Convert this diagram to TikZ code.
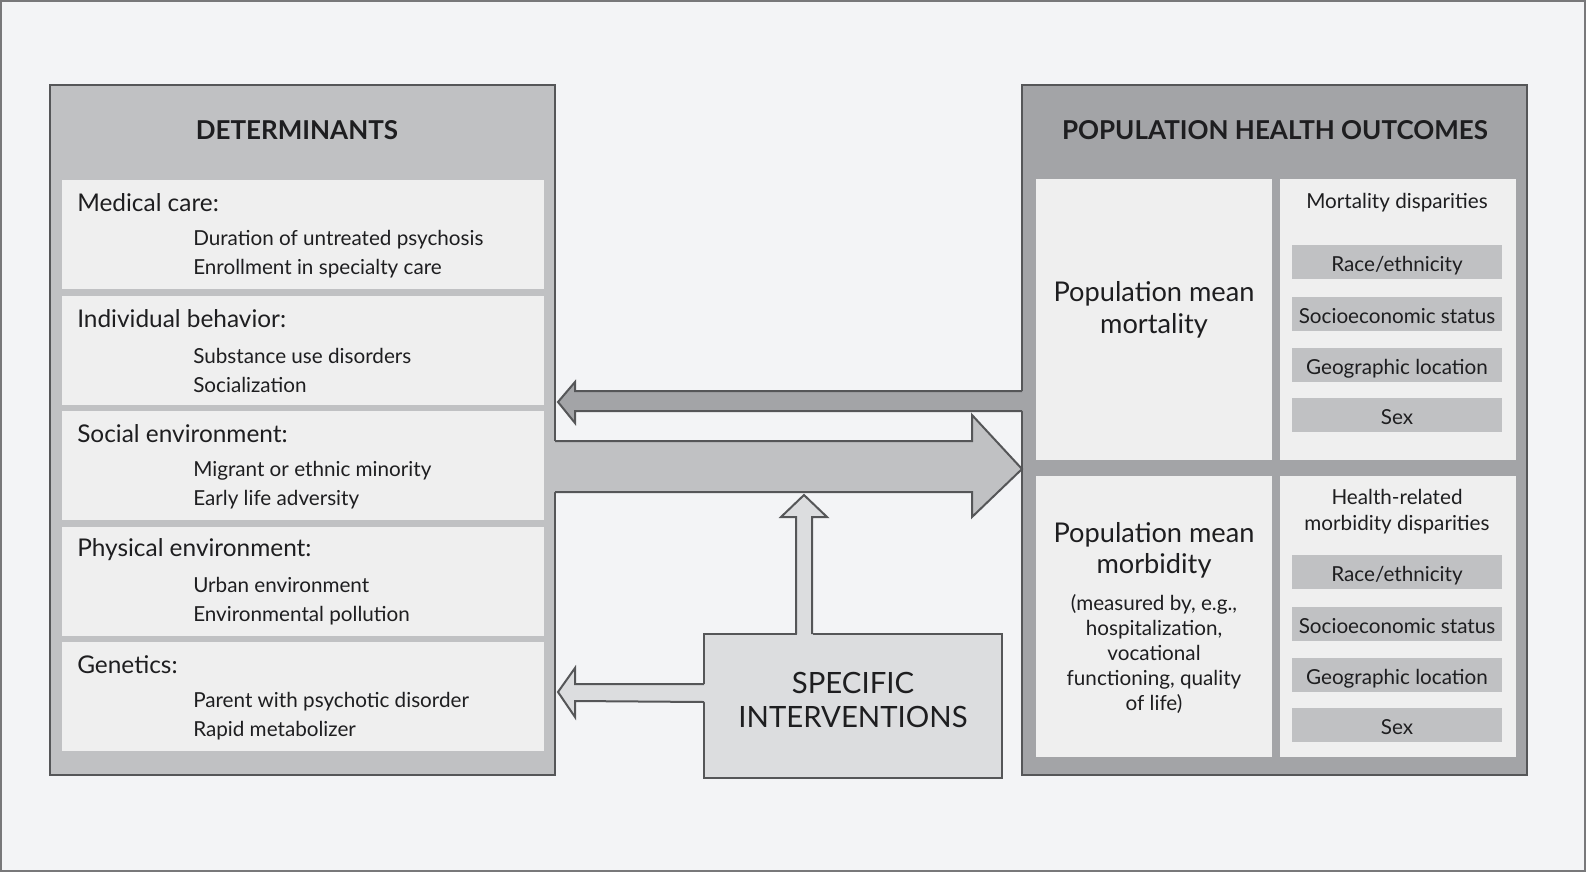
\documentclass[tikz,border=0pt]{standalone}
\usepackage{fontspec}
\setmainfont{Lato}
\definecolor{bgGray}{RGB}{243, 244, 246}
\definecolor{frameGray}{RGB}{120, 120, 122}
\definecolor{lineGray}{RGB}{85, 86, 88}
\definecolor{boxLight}{RGB}{192, 193, 195}
\definecolor{boxDark}{RGB}{163, 164, 167}
\definecolor{cellFill}{RGB}{239, 239, 239}
\definecolor{specFill}{RGB}{220, 221, 223}
\definecolor{inkBlack}{RGB}{30, 30, 32}
\usetikzlibrary{positioning, calc}
\tikzset{
  outerbox/.style={rectangle, draw=lineGray, line width=1.5pt, fill=#1, inner sep=0pt, outer sep=0pt, anchor=north west},
  detcell/.style={rectangle, fill=cellFill, minimum width=361.5pt, minimum height=81.75pt, inner sep=0pt, outer sep=0pt, anchor=north west},
  outcell/.style={rectangle, fill=cellFill, minimum width=177pt, minimum height=210.75pt, inner sep=0pt, outer sep=0pt, anchor=north west},
  dispbox/.style={rectangle, fill=boxLight, minimum width=157.5pt, minimum height=25.5pt, inner sep=0pt, text height=16.5pt, text depth=2pt, text=inkBlack, font=\fontsize{15.5}{18}\selectfont},
  headtext/.style={inner sep=0pt, text=inkBlack, font=\fontsize{19.5}{23}\selectfont\bfseries},
  celltitle/.style={anchor=west, inner sep=0pt, text=inkBlack, font=\fontsize{18.3}{22}\selectfont},
  cellitems/.style={anchor=west, align=left, inner sep=0pt, text=inkBlack, font=\fontsize{15.5}{21.75}\selectfont},
  midtext/.style 2 args={align=center, inner sep=0pt, text=inkBlack, font=\fontsize{#1}{#2}\selectfont},
  fatfill/.style={fill=#1},
  fatline/.style={draw=lineGray, line width=1.5pt, line join=miter},
}

\begin{document}
\begin{tikzpicture}[x=0.75pt, y=-0.75pt]
  \useasboundingbox (0,0) rectangle (1586,872);
  \draw[frameGray, fill=bgGray, line width=1.5pt] (1,1) rectangle (1585,871);

  % Determinants
  \node[outerbox=boxLight, minimum width=378.75pt, minimum height=517.5pt] (det) at (50,85) {};
  \node[headtext] (detT) at (297,130) {DETERMINANTS};

  \node[detcell] (med) at (62,180) {};
  \node[detcell] (behav) at (62,295.5) {};
  \node[detcell] (social) at (62,411) {};
  \node[detcell] (phys) at (62,526.5) {};
  \node[detcell] (gene) at (62,642) {};

  \node[celltitle] (medT) at ($(med.north west)+(15,23)$) {Medical care:};
  \node[cellitems] (medI) at ($(med.north west)+(131,74.5)$) {Duration of untreated psychosis\\Enrollment in specialty care};
  \node[celltitle] (behavT) at ($(behav.north west)+(15,23)$) {Individual behavior:};
  \node[cellitems] (behavI) at ($(behav.north west)+(131,74.5)$) {Substance use disorders\\Socialization};
  \node[celltitle] (socialT) at ($(social.north west)+(15,23)$) {Social environment:};
  \node[cellitems] (socialI) at ($(social.north west)+(131,74.5)$) {Migrant or ethnic minority\\Early life adversity};
  \node[celltitle] (physT) at ($(phys.north west)+(15,23)$) {Physical environment:};
  \node[cellitems] (physI) at ($(phys.north west)+(131,74.5)$) {Urban environment\\Environmental pollution};
  \node[celltitle] (geneT) at ($(gene.north west)+(15,23)$) {Genetics:};
  \node[cellitems] (geneI) at ($(gene.north west)+(131,74.5)$) {Parent with psychotic disorder\\Rapid metabolizer};

  % Outcomes
  \node[outerbox=boxDark, minimum width=378.75pt, minimum height=517.5pt] (out) at (1022,85) {};
  \node[headtext] (outT) at (1275,130) {POPULATION HEALTH OUTCOMES};

  \node[outcell] (mtmean) at (1036,179) {};
  \node[outcell] (mtdisp) at (1280,179) {};
  \node[outcell] (mbmean) at (1036,476) {};
  \node[outcell] (mbdisp) at (1280,476) {};

  \node[midtext={20.4}{24}] (mtmeanT) at (1154,310) {Population mean\\mortality};
  \node[midtext={15.5}{19.5}] (mtdispT) at (1397,203) {Mortality disparities};
  \node[dispbox] (mtrace) at (1397,262) {Race/ethnicity};
  \node[dispbox] (mtses) at (1397,314) {Socioeconomic status};
  \node[dispbox] (mtgeo) at (1397,365) {Geographic location};
  \node[dispbox] (mtsex) at (1397,415) {Sex};

  \node[midtext={20.4}{23}] (mbmeanT) at (1154,550) {Population mean\\morbidity};
  \node[midtext={15.5}{18.75}] (mbnote) at (1154,654) {(measured by, e.g.,\\hospitalization,\\vocational\\functioning, quality\\of life)};
  \node[midtext={15.5}{19.5}] (mbdispT) at (1397,512) {Health-related\\morbidity disparities};
  \node[dispbox] (mbrace) at (1397,571.5) {Race/ethnicity};
  \node[dispbox] (mbses) at (1397,623.5) {Socioeconomic status};
  \node[dispbox] (mbgeo) at (1397,675) {Geographic location};
  \node[dispbox] (mbsex) at (1397,725) {Sex};

  % Specific interventions
  \node[outerbox=specFill, minimum width=223.5pt, minimum height=108pt] (spec) at (704,634) {};
  \node[midtext={22}{25.5}] (specT) at ($(spec.center)+(0,-6)$) {SPECIFIC\\INTERVENTIONS};

  % Arrows
  \fill[fatfill=boxDark] ($(out.west |- 0,391)+(1.5,0)$) -- (575,391) -- (575,382) -- ($(det.east |- 0,402)+(3,0)$) -- (575,423) -- (575,411) -- ($(out.west |- 0,411)+(1.5,0)$) -- cycle;
  \draw[fatline] (out.west |- 0,391) -- (575,391) -- (575,382) -- ($(det.east |- 0,402)+(3,0)$) -- (575,423) -- (575,411) -- (out.west |- 0,411);

  \fill[fatfill=boxLight] ($(det.east |- 0,441)+(-1.5,0)$) -- (972,441) -- (972,415) -- (out.west |- 0,469) -- (972,517) -- (972,492) -- ($(det.east |- 0,492)+(-1.5,0)$) -- cycle;
  \draw[fatline] (det.east |- 0,441) -- (972,441) -- (972,415) -- (out.west |- 0,469) -- (972,517) -- (972,492) -- (det.east |- 0,492);

  \fill[fatfill=specFill] ($(spec.north |- 0,634)+(-56,1.5)$) -- (796,517) -- (781,517) -- (804,495) -- (827,517) -- (812,517) -- ($(spec.north |- 0,634)+(-40,1.5)$) -- cycle;
  \draw[fatline] (796,634) -- (796,517) -- (781,517) -- (804,495) -- (827,517) -- (812,517) -- (812,634);

  \fill[fatfill=specFill] ($(spec.west |- 0,684)+(1.5,0)$) -- (575,684) -- (575,668) -- ($(det.east |- 0,692)+(3,0)$) -- (575,717) -- (575,701) -- ($(spec.west |- 0,702)+(1.5,0)$) -- cycle;
  \draw[fatline] (spec.west |- 0,684) -- (575,684) -- (575,668) -- ($(det.east |- 0,692)+(3,0)$) -- (575,717) -- (575,701) -- (spec.west |- 0,702);
\end{tikzpicture}
\end{document}
